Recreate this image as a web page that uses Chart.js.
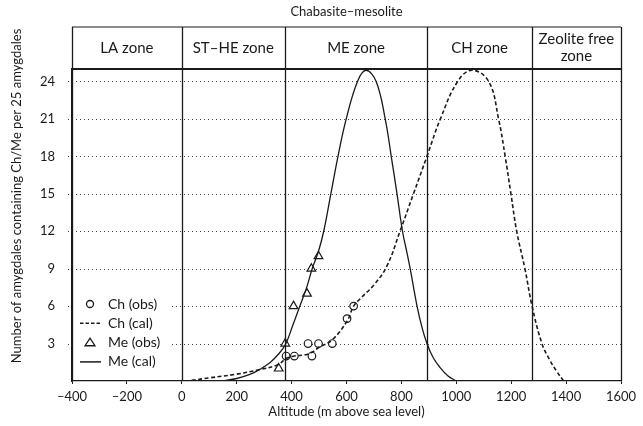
<!DOCTYPE html>
<html>
<head>
<meta charset="utf-8">
<script src="https://cdn.jsdelivr.net/npm/chart.js@4.4.0/dist/chart.umd.min.js"></script>
<style>
html, body { margin: 0; padding: 0; background: #fff; }
</style>
</head>
<body>
<canvas id="chart" width="643" height="426"></canvas>
<script>
const zoneEdges = [-400, 0, 375, 895, 1275, 1600];
const zoneLabels = [['LA zone'], ['ST–HE zone'], ['ME zone'], ['CH zone'], ['Zeolite free', 'zone']];
const xTicks = [-400, -200, 0, 200, 400, 600, 800, 1000, 1200, 1400, 1600];
const yTicks = [3, 6, 9, 12, 15, 18, 21, 24];

const chObsX = [380, 410, 474, 460, 498, 548, 602, 626];
const chObsY = [2, 2, 2, 3, 3, 3, 5, 6];
const meObsX = [353, 377, 407, 456, 472, 498];
const meObsY = [1, 3, 6, 7, 9, 10];

const chCalX = [36, 100, 200, 280, 350, 380, 410, 450, 474, 500, 548, 602, 626, 650, 700, 747, 795, 844, 893, 942, 1005, 1057, 1118, 1154, 1178, 1199, 1220, 1250, 1276, 1312, 1340, 1365, 1391];
const chCalY = [0.05, 0.25, 0.55, 0.9, 1.3, 1.8, 2.0, 2.1, 2.3, 2.7, 3.3, 4.8, 6.0, 6.6, 7.7, 9.2, 12, 15, 18, 21, 24, 24.9, 24, 21, 18, 15, 12, 9, 6, 3, 1.7, 0.8, 0];

const meCalX = [146, 200, 250, 274, 300, 323, 350, 377, 405, 430, 455, 475, 498, 517, 543, 569, 599, 640, 671, 708, 741, 763, 784, 804, 820, 832, 857, 875, 893, 915, 940, 970, 1000];
const meCalY = [0, 0.2, 0.55, 0.8, 1.15, 1.5, 2.1, 2.9, 4.5, 6, 7.5, 9, 10.4, 12, 15, 18, 21, 24, 24.9, 24, 21, 18, 15, 12, 10.3, 9, 6, 4.3, 3, 1.9, 1.1, 0.4, 0];

const pts = (xs, ys) => xs.map((v, i) => ({ x: v, y: ys[i] }));
const ink = '#1a1a1a';
const fontFamily = 'Lato, "Open Sans", sans-serif';

function drawTriangle(ctx, cx, cy, r) {
    ctx.beginPath();
    ctx.moveTo(cx, cy - r);
    ctx.lineTo(cx + r * 1.1, cy + r * 0.7);
    ctx.lineTo(cx - r * 1.1, cy + r * 0.7);
    ctx.closePath();
    ctx.fill();
    ctx.stroke();
}

// dotted horizontal grid, drawn by hand so the dots come out crisp
const dottedGrid = {
    id: 'dottedGrid',
    beforeDatasetsDraw(chart) {
        const { ctx, chartArea: a, scales: { y } } = chart;
        ctx.save();
        ctx.strokeStyle = '#444';
        ctx.lineWidth = 1;
        ctx.setLineDash([1, 3]);
        yTicks.forEach(v => {
            const py = Math.round(y.getPixelForValue(v)) + 0.5;
            ctx.beginPath();
            ctx.moveTo(a.left - 4, py);
            ctx.lineTo(a.right, py);
            ctx.stroke();
        });
        ctx.restore();
    }
};

const headerPlugin = {
    id: 'header',
    afterDraw(chart) {
        const { ctx, chartArea: a, scales: { x } } = chart;
        const top = a.top - 42;
        ctx.save();
        ctx.strokeStyle = ink;
        ctx.lineWidth = 1.2;
        ctx.beginPath();
        ctx.moveTo(a.left, top);
        ctx.lineTo(a.right, top);
        ctx.stroke();
        ctx.lineWidth = 2;
        ctx.beginPath();
        ctx.moveTo(a.left, a.top);
        ctx.lineTo(a.right, a.top);
        ctx.stroke();
        ctx.lineWidth = 1.3;
        zoneEdges.forEach(v => {
            const px = Math.round(x.getPixelForValue(v)) + 0.5;
            ctx.beginPath();
            ctx.moveTo(px, top);
            ctx.lineTo(px, a.bottom);
            ctx.stroke();
        });
        ctx.fillStyle = ink;
        ctx.textAlign = 'center';
        ctx.textBaseline = 'middle';
        ctx.font = '15px ' + fontFamily;
        zoneLabels.forEach((lines, i) => {
            const cx = (x.getPixelForValue(zoneEdges[i]) + x.getPixelForValue(zoneEdges[i + 1])) / 2;
            const cy = (top + a.top) / 2;
            lines.forEach((t, j) => {
                ctx.fillText(t, cx, cy + (j - (lines.length - 1) / 2) * 17);
            });
        });
        ctx.font = '13px ' + fontFamily;
        ctx.fillText('Chabasite–mesolite', (a.left + a.right) / 2, 12);

        // y axis title, centred a bit above the plot centre like the original
        ctx.translate(17, 196);
        ctx.rotate(-Math.PI / 2);
        ctx.fillText('Number of amygdales containing Ch/Me per 25 amygdales', 0, 0);
        ctx.restore();
    }
};

const legendItems = [
    { text: 'Ch (obs)', kind: 'circle' },
    { text: 'Ch (cal)', kind: 'dash' },
    { text: 'Me (obs)', kind: 'triangle' },
    { text: 'Me (cal)', kind: 'solid' }
];

const legendPlugin = {
    id: 'innerLegend',
    afterDatasetsDraw(chart) {
        const { ctx, chartArea: a } = chart;
        ctx.save();
        ctx.fillStyle = '#fff';
        ctx.fillRect(a.left + 1, a.bottom - 88, 96, 80);
        ctx.strokeStyle = ink;
        ctx.font = '14px ' + fontFamily;
        ctx.textBaseline = 'middle';
        ctx.textAlign = 'left';
        legendItems.forEach((it, i) => {
            const cy = a.bottom - 77 + i * 19.3;
            const sx = a.left + 8;
            ctx.lineWidth = 1.3;
            ctx.setLineDash([]);
            if (it.kind === 'circle') {
                ctx.fillStyle = '#fff';
                ctx.beginPath();
                ctx.arc(sx + 10, cy, 3.5, 0, Math.PI * 2);
                ctx.fill();
                ctx.stroke();
            } else if (it.kind === 'triangle') {
                ctx.fillStyle = '#fff';
                drawTriangle(ctx, sx + 10, cy, 4.5);
            } else {
                if (it.kind === 'dash') ctx.setLineDash([3.5, 2]);
                ctx.lineWidth = it.kind === 'dash' ? 1.6 : 1.5;
                ctx.beginPath();
                ctx.moveTo(sx, cy);
                ctx.lineTo(sx + 21, cy);
                ctx.stroke();
                ctx.setLineDash([]);
            }
            ctx.fillStyle = ink;
            ctx.fillText(it.text, a.left + 36, cy);
        });
        ctx.restore();
    }
};

new Chart(document.getElementById('chart'), {
    type: 'scatter',
    data: {
        datasets: [
            {
                label: 'Ch (cal)',
                data: pts(chCalX, chCalY),
                showLine: true,
                borderColor: ink,
                borderWidth: 1.6,
                borderDash: [4, 2.5],
                pointRadius: 0,
                tension: 0.4
            },
            {
                label: 'Me (cal)',
                data: pts(meCalX, meCalY),
                showLine: true,
                borderColor: ink,
                borderWidth: 1.3,
                pointRadius: 0,
                tension: 0.4
            },
            {
                label: 'Ch (obs)',
                data: pts(chObsX, chObsY),
                pointStyle: 'circle',
                pointRadius: 3.8,
                pointBorderWidth: 1.2,
                pointBackgroundColor: '#fff',
                pointBorderColor: ink
            },
            {
                label: 'Me (obs)',
                data: pts(meObsX, meObsY),
                pointStyle: 'triangle',
                pointRadius: 5,
                pointBorderWidth: 1.2,
                pointBackgroundColor: '#fff',
                pointBorderColor: ink
            }
        ]
    },
    options: {
        responsive: false,
        animation: false,
        devicePixelRatio: 1,
        layout: { padding: { top: 69, right: 22, left: 0, bottom: 0 } },
        plugins: {
            legend: { display: false },
            tooltip: { enabled: false }
        },
        scales: {
            x: {
                type: 'linear',
                min: -400,
                max: 1600,
                afterBuildTicks: axis => { axis.ticks = xTicks.map(v => ({ value: v })); },
                afterFit: axis => { axis.height = 45; },
                ticks: {
                    color: ink,
                    font: { family: fontFamily, size: 13 },
                    padding: 5,
                    maxRotation: 0,
                    callback: v => (v < 0 ? '–' + Math.abs(v) : String(v))
                },
                grid: { drawOnChartArea: false, tickLength: 3, color: ink, lineWidth: 1 },
                border: { color: ink, width: 1.3 },
                title: {
                    display: true,
                    text: 'Altitude (m above sea level)',
                    color: ink,
                    font: { family: fontFamily, size: 13 },
                    padding: { top: 0, bottom: 6 }
                }
            },
            y: {
                min: 0,
                max: 25,
                afterBuildTicks: axis => { axis.ticks = yTicks.map(v => ({ value: v })); },
                afterFit: axis => { axis.width = 72; },
                ticks: {
                    color: ink,
                    font: { family: fontFamily, size: 13 },
                    padding: 9
                },
                grid: { display: false },
                border: { color: ink, width: 1.3 }
            }
        }
    },
    plugins: [dottedGrid, headerPlugin, legendPlugin]
});
</script>
</body>
</html>
